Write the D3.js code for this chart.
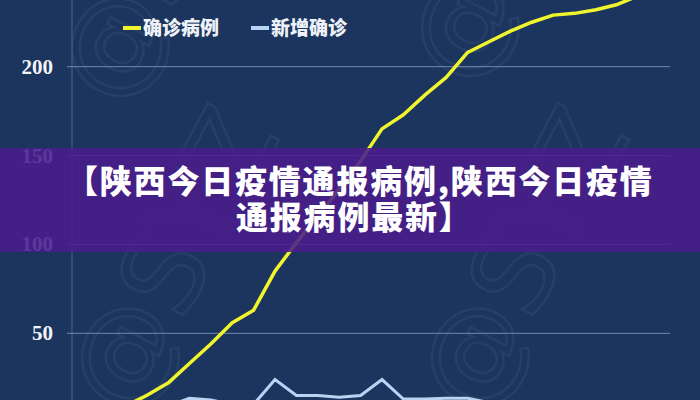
<!DOCTYPE html>
<html>
<head>
<meta charset="utf-8">
<script src="https://cdn.jsdelivr.net/npm/d3@7"></script>
<style>
  html, body { margin: 0; padding: 0; background: #1b355e; }
  svg { display: block; }
</style>
</head>
<body>
<svg id="chart" width="700" height="400"></svg>
<script>
// ---- data ----
const days = ["D1","D2","D3","D4","D5","D6","D7","D8","D9","D10","D11","D12","D13","D14",
              "D15","D16","D17","D18","D19","D20","D21","D22","D23","D24","D25","D26","D27","D28"];
const confirmed = [2, 5, 9, 15, 22, 33, 44, 56, 63, 85, 101, 116, 131, 147,
                   165, 173, 184, 194, 208, 214, 220, 225, 229, 230, 232, 235, 240, 245];
const newCases = [1, 2, 4, 7, 9, 13.5, 12.5, 10, 10, 24, 15, 15, 14, 15,
                  24, 13, 13, 13.5, 13.5, 11, 9, 8, 6, 5, 4, 4, 3, 2];
const yTicks = [50, 100, 150, 200];
const seriesNames = ["确诊病例", "新增确诊"];
const bannerLines = ["【陕西今日疫情通报病例,陕西今日疫情", "通报病例最新】"];
const watermarkText = "@SYZ";

const svg = d3.select("#chart");
const W = 700, H = 400;

svg.append("rect").attr("width", W).attr("height", H).attr("fill", "#1b355e");

const x = d3.scalePoint().domain(days).range([82.4, 660.2]);
const y = d3.scaleLinear().domain([0, 250]).range([422.2, -22.2]);

// watermarks
const wm = svg.append("g").attr("fill", "none").attr("stroke", "#ffffff").attr("stroke-opacity", 0.05)
  .attr("stroke-width", 2.5).attr("font-family", "DejaVu Sans").attr("font-size", 110);
[[120, 110], [470, 90], [130, 420], [480, 420]].forEach(([px, py]) => {
  wm.append("text").attr("transform", `translate(${px},${py}) rotate(-62)`).text(watermarkText);
});

// vertical axis line
svg.append("line").attr("x1", 72).attr("x2", 72).attr("y1", 0).attr("y2", H)
  .attr("stroke", "#4a6390").attr("stroke-width", 1);

// grid lines
svg.append("g").selectAll("line").data(yTicks).join("line")
  .attr("x1", 67).attr("x2", 670)
  .attr("y1", d => y(d)).attr("y2", d => y(d))
  .attr("stroke", "#7388ad").attr("stroke-width", 1);

// y axis labels
svg.append("g").selectAll("text").data(yTicks).join("text")
  .attr("x", 53).attr("y", d => y(d) + 7)
  .attr("text-anchor", "end")
  .attr("font-family", "Liberation Serif")
  .attr("font-weight", "bold")
  .attr("font-size", 21)
  .attr("fill", "#f2f4f8")
  .text(d => d);

// lines
const line = d3.line().x((d, i) => x(days[i])).y(d => y(d));
svg.append("path").datum(newCases).attr("d", line)
  .attr("fill", "none").attr("stroke", "#b9d3f3").attr("stroke-width", 3)
  .attr("stroke-linejoin", "miter");
svg.append("path").datum(confirmed).attr("d", line)
  .attr("fill", "none").attr("stroke", "#f1f52e").attr("stroke-width", 3.5)
  .attr("stroke-linejoin", "round");

// legend
const legendColors = ["#f1f52e", "#b9d3f3"];
const legendX = [123, 251];
const lg = svg.append("g");
seriesNames.forEach((name, i) => {
  lg.append("line").attr("x1", legendX[i]).attr("x2", legendX[i] + 18)
    .attr("y1", 28).attr("y2", 28).attr("stroke", legendColors[i]).attr("stroke-width", 4);
  lg.append("text").attr("x", legendX[i] + 20).attr("y", 35)
    .attr("font-family", "Noto Sans CJK SC").attr("font-weight", 900)
    .attr("font-size", 19).attr("fill", "#eef2f8").text(name);
});

// banner overlay
svg.append("rect").attr("x", 0).attr("y", 148).attr("width", W).attr("height", 104)
  .attr("fill", "#4a1d8c").attr("fill-opacity", 0.88);
const bannerX = [66, 236];
const bannerY = [193, 229];
bannerLines.forEach((t, i) => {
  svg.append("text").attr("x", bannerX[i]).attr("y", bannerY[i])
    .attr("font-family", "Noto Sans CJK SC").attr("font-weight", 900)
    .attr("font-size", 32).attr("letter-spacing", 1.8)
    .attr("fill", "#ffffff").text(t);
});
</script>
</body>
</html>
